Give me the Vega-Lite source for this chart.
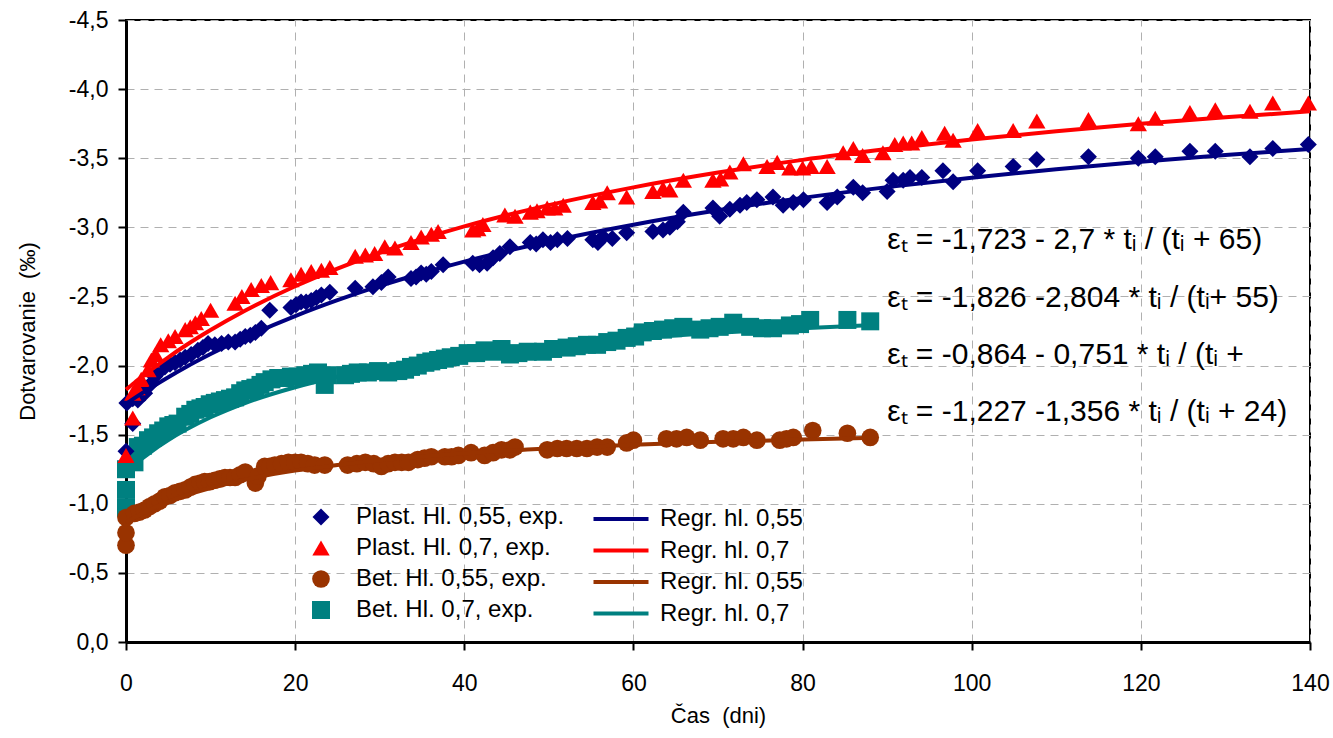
{
  "$schema": "https://vega.github.io/schema/vega-lite/v6.json",
  "width": 1184,
  "height": 622,
  "autosize": {"type": "none"},
  "padding": {"left": 126, "top": 20, "right": 23, "bottom": 96},
  "background": "white",
  "datasets": {
    "pts": [
      {"s":"B70","t":0,"v":-0.97},{"s":"B70","t":0,"v":-1.10},{"s":"B70","t":0,"v":-1.25},{"s":"B70","t":1,"v":-1.30},{"s":"B70","t":1.4,"v":-1.41},{"s":"B70","t":2,"v":-1.42},{"s":"B70","t":2.6,"v":-1.46},{"s":"B70","t":3.2,"v":-1.48},{"s":"B70","t":3.8,"v":-1.51},{"s":"B70","t":4.4,"v":-1.53},{"s":"B70","t":5,"v":-1.56},{"s":"B70","t":5.6,"v":-1.57},{"s":"B70","t":6.1,"v":-1.58},{"s":"B70","t":7,"v":-1.63},{"s":"B70","t":7.6,"v":-1.65},{"s":"B70","t":8.2,"v":-1.68},{"s":"B70","t":8.8,"v":-1.69},{"s":"B70","t":9.3,"v":-1.70},{"s":"B70","t":9.9,"v":-1.72},{"s":"B70","t":10.5,"v":-1.73},{"s":"B70","t":11.1,"v":-1.74},{"s":"B70","t":11.7,"v":-1.75},{"s":"B70","t":12.3,"v":-1.76},{"s":"B70","t":12.9,"v":-1.77},{"s":"B70","t":13.5,"v":-1.80},{"s":"B70","t":14.1,"v":-1.82},{"s":"B70","t":14.7,"v":-1.83},{"s":"B70","t":15.3,"v":-1.84},{"s":"B70","t":15.9,"v":-1.86},{"s":"B70","t":16.4,"v":-1.88},{"s":"B70","t":17.2,"v":-1.90},{"s":"B70","t":18,"v":-1.91},{"s":"B70","t":18.8,"v":-1.91},{"s":"B70","t":19.5,"v":-1.92},{"s":"B70","t":20.3,"v":-1.92},{"s":"B70","t":21.2,"v":-1.93},{"s":"B70","t":22,"v":-1.94},{"s":"B70","t":22.7,"v":-1.95},{"s":"B70","t":23.5,"v":-1.86},{"s":"B70","t":23.8,"v":-1.93},{"s":"B70","t":25.9,"v":-1.93},{"s":"B70","t":26.6,"v":-1.94},{"s":"B70","t":27.4,"v":-1.95},{"s":"B70","t":28.6,"v":-1.95},{"s":"B70","t":29.8,"v":-1.96},{"s":"B70","t":31,"v":-1.95},{"s":"B70","t":32.2,"v":-1.96},{"s":"B70","t":33,"v":-1.97},{"s":"B70","t":33.7,"v":-1.99},{"s":"B70","t":34.5,"v":-2.00},{"s":"B70","t":35.4,"v":-2.02},{"s":"B70","t":36.1,"v":-2.03},{"s":"B70","t":36.9,"v":-2.04},{"s":"B70","t":37.7,"v":-2.05},{"s":"B70","t":38.4,"v":-2.06},{"s":"B70","t":39.4,"v":-2.07},{"s":"B70","t":40.4,"v":-2.09},{"s":"B70","t":41.4,"v":-2.09},{"s":"B70","t":42.4,"v":-2.11},{"s":"B70","t":43.4,"v":-2.10},{"s":"B70","t":44.4,"v":-2.12},{"s":"B70","t":45.4,"v":-2.08},{"s":"B70","t":46.4,"v":-2.09},{"s":"B70","t":47.5,"v":-2.10},{"s":"B70","t":49.3,"v":-2.10},{"s":"B70","t":50.5,"v":-2.12},{"s":"B70","t":52.1,"v":-2.13},{"s":"B70","t":53.3,"v":-2.14},{"s":"B70","t":54.5,"v":-2.15},{"s":"B70","t":55.7,"v":-2.15},{"s":"B70","t":56.9,"v":-2.17},{"s":"B70","t":58,"v":-2.18},{"s":"B70","t":59.2,"v":-2.20},{"s":"B70","t":60.2,"v":-2.21},{"s":"B70","t":61.1,"v":-2.24},{"s":"B70","t":62.3,"v":-2.25},{"s":"B70","t":63.5,"v":-2.26},{"s":"B70","t":64.7,"v":-2.27},{"s":"B70","t":65.9,"v":-2.28},{"s":"B70","t":67.9,"v":-2.26},{"s":"B70","t":69,"v":-2.27},{"s":"B70","t":70.2,"v":-2.28},{"s":"B70","t":71.8,"v":-2.31},{"s":"B70","t":73.8,"v":-2.28},{"s":"B70","t":75.2,"v":-2.27},{"s":"B70","t":76.5,"v":-2.27},{"s":"B70","t":78.5,"v":-2.29},{"s":"B70","t":79.7,"v":-2.30},{"s":"B70","t":80.9,"v":-2.33},{"s":"B70","t":85.3,"v":-2.33},{"s":"B70","t":88,"v":-2.32},
      {"s":"B55","t":0,"v":-0.70},{"s":"B55","t":0,"v":-0.79},{"s":"B55","t":0,"v":-0.90},{"s":"B55","t":1,"v":-0.93},{"s":"B55","t":1.6,"v":-0.94},{"s":"B55","t":2.2,"v":-0.955},{"s":"B55","t":2.8,"v":-0.98},{"s":"B55","t":3.4,"v":-1.00},{"s":"B55","t":4,"v":-1.02},{"s":"B55","t":4.6,"v":-1.05},{"s":"B55","t":5.2,"v":-1.06},{"s":"B55","t":5.8,"v":-1.08},{"s":"B55","t":6.4,"v":-1.09},{"s":"B55","t":7,"v":-1.10},{"s":"B55","t":7.6,"v":-1.12},{"s":"B55","t":8.2,"v":-1.14},{"s":"B55","t":8.8,"v":-1.15},{"s":"B55","t":9.3,"v":-1.16},{"s":"B55","t":9.9,"v":-1.16},{"s":"B55","t":10.5,"v":-1.17},{"s":"B55","t":11.1,"v":-1.18},{"s":"B55","t":11.7,"v":-1.19},{"s":"B55","t":12.3,"v":-1.19},{"s":"B55","t":12.9,"v":-1.19},{"s":"B55","t":13.5,"v":-1.21},{"s":"B55","t":14.1,"v":-1.23},{"s":"B55","t":15.3,"v":-1.15},{"s":"B55","t":15.6,"v":-1.20},{"s":"B55","t":16.4,"v":-1.27},{"s":"B55","t":17,"v":-1.27},{"s":"B55","t":17.6,"v":-1.28},{"s":"B55","t":18.4,"v":-1.29},{"s":"B55","t":19.2,"v":-1.30},{"s":"B55","t":20,"v":-1.30},{"s":"B55","t":20.7,"v":-1.30},{"s":"B55","t":21.5,"v":-1.29},{"s":"B55","t":22.3,"v":-1.28},{"s":"B55","t":23.5,"v":-1.28},{"s":"B55","t":26.2,"v":-1.28},{"s":"B55","t":27.3,"v":-1.29},{"s":"B55","t":28.3,"v":-1.30},{"s":"B55","t":29.3,"v":-1.29},{"s":"B55","t":30.2,"v":-1.27},{"s":"B55","t":31,"v":-1.29},{"s":"B55","t":31.8,"v":-1.30},{"s":"B55","t":32.6,"v":-1.30},{"s":"B55","t":33.4,"v":-1.30},{"s":"B55","t":34.5,"v":-1.32},{"s":"B55","t":35.3,"v":-1.33},{"s":"B55","t":36.1,"v":-1.34},{"s":"B55","t":37.7,"v":-1.34},{"s":"B55","t":38.5,"v":-1.34},{"s":"B55","t":39.3,"v":-1.35},{"s":"B55","t":40.8,"v":-1.37},{"s":"B55","t":42.4,"v":-1.35},{"s":"B55","t":43.4,"v":-1.37},{"s":"B55","t":44.4,"v":-1.39},{"s":"B55","t":45.4,"v":-1.39},{"s":"B55","t":46,"v":-1.41},{"s":"B55","t":49.8,"v":-1.39},{"s":"B55","t":51,"v":-1.40},{"s":"B55","t":52.1,"v":-1.40},{"s":"B55","t":53.3,"v":-1.40},{"s":"B55","t":54.5,"v":-1.40},{"s":"B55","t":55.7,"v":-1.41},{"s":"B55","t":56.9,"v":-1.41},{"s":"B55","t":59.2,"v":-1.44},{"s":"B55","t":60,"v":-1.46},{"s":"B55","t":63.9,"v":-1.47},{"s":"B55","t":65.1,"v":-1.47},{"s":"B55","t":66.3,"v":-1.48},{"s":"B55","t":67.9,"v":-1.46},{"s":"B55","t":70.6,"v":-1.47},{"s":"B55","t":71.8,"v":-1.47},{"s":"B55","t":73,"v":-1.48},{"s":"B55","t":74.6,"v":-1.46},{"s":"B55","t":77.3,"v":-1.46},{"s":"B55","t":78.1,"v":-1.47},{"s":"B55","t":78.9,"v":-1.48},{"s":"B55","t":81.2,"v":-1.53},{"s":"B55","t":85.3,"v":-1.51},{"s":"B55","t":88,"v":-1.48},
      {"s":"P55","t":0,"v":-1.38},{"s":"P55","t":0.1,"v":-1.73},{"s":"P55","t":0.8,"v":-1.58},{"s":"P55","t":0.8,"v":-1.76},{"s":"P55","t":1.4,"v":-1.75},{"s":"P55","t":1.8,"v":-1.79},{"s":"P55","t":2.2,"v":-1.80},{"s":"P55","t":2.8,"v":-1.86},{"s":"P55","t":3.4,"v":-1.92},{"s":"P55","t":4,"v":-1.96},{"s":"P55","t":4.6,"v":-1.99},{"s":"P55","t":5.2,"v":-2.01},{"s":"P55","t":5.8,"v":-2.02},{"s":"P55","t":6.4,"v":-2.04},{"s":"P55","t":7,"v":-2.06},{"s":"P55","t":7.7,"v":-2.08},{"s":"P55","t":8.5,"v":-2.11},{"s":"P55","t":9.1,"v":-2.13},{"s":"P55","t":9.7,"v":-2.16},{"s":"P55","t":10.5,"v":-2.15},{"s":"P55","t":11.3,"v":-2.16},{"s":"P55","t":12.1,"v":-2.17},{"s":"P55","t":12.9,"v":-2.17},{"s":"P55","t":13.5,"v":-2.19},{"s":"P55","t":14.1,"v":-2.21},{"s":"P55","t":14.7,"v":-2.22},{"s":"P55","t":15.3,"v":-2.24},{"s":"P55","t":16,"v":-2.27},{"s":"P55","t":17,"v":-2.40},{"s":"P55","t":19.5,"v":-2.42},{"s":"P55","t":20.1,"v":-2.44},{"s":"P55","t":20.7,"v":-2.46},{"s":"P55","t":21.3,"v":-2.46},{"s":"P55","t":21.9,"v":-2.47},{"s":"P55","t":22.5,"v":-2.49},{"s":"P55","t":23.1,"v":-2.51},{"s":"P55","t":24.1,"v":-2.53},{"s":"P55","t":27.1,"v":-2.56},{"s":"P55","t":29.2,"v":-2.57},{"s":"P55","t":30.2,"v":-2.60},{"s":"P55","t":31,"v":-2.64},{"s":"P55","t":33.7,"v":-2.63},{"s":"P55","t":34.3,"v":-2.64},{"s":"P55","t":34.9,"v":-2.67},{"s":"P55","t":35.5,"v":-2.66},{"s":"P55","t":36.1,"v":-2.68},{"s":"P55","t":37.5,"v":-2.73},{"s":"P55","t":41,"v":-2.74},{"s":"P55","t":41.8,"v":-2.73},{"s":"P55","t":42.7,"v":-2.74},{"s":"P55","t":43.4,"v":-2.78},{"s":"P55","t":44.2,"v":-2.81},{"s":"P55","t":45.4,"v":-2.86},{"s":"P55","t":47.8,"v":-2.89},{"s":"P55","t":48.5,"v":-2.88},{"s":"P55","t":49.3,"v":-2.91},{"s":"P55","t":50.2,"v":-2.89},{"s":"P55","t":51,"v":-2.91},{"s":"P55","t":52.2,"v":-2.92},{"s":"P55","t":55.2,"v":-2.91},{"s":"P55","t":55.8,"v":-2.89},{"s":"P55","t":56.4,"v":-2.93},{"s":"P55","t":57.5,"v":-2.92},{"s":"P55","t":59.2,"v":-2.96},{"s":"P55","t":62.3,"v":-2.97},{"s":"P55","t":63.5,"v":-2.98},{"s":"P55","t":64.3,"v":-3.00},{"s":"P55","t":65.2,"v":-3.04},{"s":"P55","t":65.9,"v":-3.11},{"s":"P55","t":69.4,"v":-3.14},{"s":"P55","t":70.2,"v":-3.08},{"s":"P55","t":71.4,"v":-3.13},{"s":"P55","t":72.6,"v":-3.16},{"s":"P55","t":73.4,"v":-3.18},{"s":"P55","t":74.6,"v":-3.20},{"s":"P55","t":76.5,"v":-3.22},{"s":"P55","t":77.7,"v":-3.16},{"s":"P55","t":78.9,"v":-3.18},{"s":"P55","t":80.1,"v":-3.20},{"s":"P55","t":82.9,"v":-3.18},{"s":"P55","t":84.1,"v":-3.22},{"s":"P55","t":86,"v":-3.29},{"s":"P55","t":87.1,"v":-3.25},{"s":"P55","t":90,"v":-3.26},{"s":"P55","t":90.7,"v":-3.34},{"s":"P55","t":91.9,"v":-3.34},{"s":"P55","t":92.7,"v":-3.36},{"s":"P55","t":94.1,"v":-3.36},{"s":"P55","t":96.6,"v":-3.41},{"s":"P55","t":97.8,"v":-3.33},{"s":"P55","t":100.7,"v":-3.41},{"s":"P55","t":104.9,"v":-3.44},{"s":"P55","t":107.7,"v":-3.49},{"s":"P55","t":113.8,"v":-3.51},{"s":"P55","t":119.7,"v":-3.50},{"s":"P55","t":121.7,"v":-3.51},{"s":"P55","t":125.8,"v":-3.55},{"s":"P55","t":128.8,"v":-3.55},{"s":"P55","t":132.9,"v":-3.51},{"s":"P55","t":135.6,"v":-3.57},{"s":"P55","t":139.8,"v":-3.60},
      {"s":"P70","t":0,"v":-1.35},{"s":"P70","t":0.8,"v":-1.62},{"s":"P70","t":0.8,"v":-1.80},{"s":"P70","t":1.3,"v":-1.84},{"s":"P70","t":1.8,"v":-1.90},{"s":"P70","t":2.6,"v":-1.97},{"s":"P70","t":3,"v":-2.04},{"s":"P70","t":3.5,"v":-2.08},{"s":"P70","t":4.1,"v":-2.15},{"s":"P70","t":5,"v":-2.18},{"s":"P70","t":5.8,"v":-2.21},{"s":"P70","t":7,"v":-2.26},{"s":"P70","t":7.6,"v":-2.28},{"s":"P70","t":8.2,"v":-2.31},{"s":"P70","t":8.9,"v":-2.34},{"s":"P70","t":10,"v":-2.40},{"s":"P70","t":12.9,"v":-2.45},{"s":"P70","t":13.7,"v":-2.50},{"s":"P70","t":14.8,"v":-2.55},{"s":"P70","t":16,"v":-2.58},{"s":"P70","t":17.1,"v":-2.60},{"s":"P70","t":19.5,"v":-2.62},{"s":"P70","t":20.7,"v":-2.66},{"s":"P70","t":21.9,"v":-2.68},{"s":"P70","t":23.1,"v":-2.69},{"s":"P70","t":24.1,"v":-2.71},{"s":"P70","t":27.1,"v":-2.79},{"s":"P70","t":28.3,"v":-2.80},{"s":"P70","t":29.4,"v":-2.81},{"s":"P70","t":30.6,"v":-2.86},{"s":"P70","t":31.8,"v":-2.85},{"s":"P70","t":33.7,"v":-2.89},{"s":"P70","t":34.9,"v":-2.93},{"s":"P70","t":36.1,"v":-2.95},{"s":"P70","t":36.9,"v":-2.97},{"s":"P70","t":41,"v":-2.98},{"s":"P70","t":41.6,"v":-2.99},{"s":"P70","t":42.2,"v":-3.02},{"s":"P70","t":44.8,"v":-3.09},{"s":"P70","t":46,"v":-3.08},{"s":"P70","t":47.8,"v":-3.11},{"s":"P70","t":48.6,"v":-3.12},{"s":"P70","t":49.8,"v":-3.14},{"s":"P70","t":50.7,"v":-3.14},{"s":"P70","t":51.7,"v":-3.16},{"s":"P70","t":55.2,"v":-3.18},{"s":"P70","t":56,"v":-3.19},{"s":"P70","t":56.9,"v":-3.25},{"s":"P70","t":59.2,"v":-3.22},{"s":"P70","t":62.3,"v":-3.26},{"s":"P70","t":63.5,"v":-3.28},{"s":"P70","t":64.3,"v":-3.27},{"s":"P70","t":65.9,"v":-3.34},{"s":"P70","t":69.4,"v":-3.34},{"s":"P70","t":70.3,"v":-3.35},{"s":"P70","t":71.4,"v":-3.40},{"s":"P70","t":73,"v":-3.46},{"s":"P70","t":75.8,"v":-3.44},{"s":"P70","t":77,"v":-3.47},{"s":"P70","t":78.5,"v":-3.43},{"s":"P70","t":80,"v":-3.43},{"s":"P70","t":81,"v":-3.44},{"s":"P70","t":82.9,"v":-3.44},{"s":"P70","t":84.8,"v":-3.54},{"s":"P70","t":86,"v":-3.57},{"s":"P70","t":87.1,"v":-3.52},{"s":"P70","t":89.5,"v":-3.54},{"s":"P70","t":90.9,"v":-3.60},{"s":"P70","t":91.9,"v":-3.61},{"s":"P70","t":92.9,"v":-3.61},{"s":"P70","t":94.1,"v":-3.65},{"s":"P70","t":96.8,"v":-3.68},{"s":"P70","t":97.8,"v":-3.63},{"s":"P70","t":100.7,"v":-3.70},{"s":"P70","t":104.9,"v":-3.70},{"s":"P70","t":107.7,"v":-3.77},{"s":"P70","t":113.8,"v":-3.78},{"s":"P70","t":119.7,"v":-3.75},{"s":"P70","t":121.7,"v":-3.79},{"s":"P70","t":125.8,"v":-3.83},{"s":"P70","t":128.8,"v":-3.85},{"s":"P70","t":132.9,"v":-3.84},{"s":"P70","t":135.6,"v":-3.90},{"s":"P70","t":139.8,"v":-3.90}
    ],
    "fit": [
      {"r":"R55P","t":0,"v":-1.723},{"r":"R55P","t":1,"v":-1.764},{"r":"R55P","t":2,"v":-1.804},{"r":"R55P","t":3,"v":-1.842},{"r":"R55P","t":5,"v":-1.916},{"r":"R55P","t":7,"v":-1.986},{"r":"R55P","t":10,"v":-2.083},{"r":"R55P","t":14,"v":-2.201},{"r":"R55P","t":20,"v":-2.358},{"r":"R55P","t":25,"v":-2.473},{"r":"R55P","t":30,"v":-2.576},{"r":"R55P","t":35,"v":-2.668},{"r":"R55P","t":40,"v":-2.752},{"r":"R55P","t":50,"v":-2.897},{"r":"R55P","t":60,"v":-3.019},{"r":"R55P","t":70,"v":-3.123},{"r":"R55P","t":80,"v":-3.213},{"r":"R55P","t":90,"v":-3.291},{"r":"R55P","t":100,"v":-3.359},{"r":"R55P","t":110,"v":-3.420},{"r":"R55P","t":120,"v":-3.474},{"r":"R55P","t":130,"v":-3.523},{"r":"R55P","t":140,"v":-3.567},
      {"r":"R70P","t":0,"v":-1.826},{"r":"R70P","t":1,"v":-1.876},{"r":"R70P","t":2,"v":-1.924},{"r":"R70P","t":3,"v":-1.971},{"r":"R70P","t":5,"v":-2.060},{"r":"R70P","t":7,"v":-2.143},{"r":"R70P","t":10,"v":-2.257},{"r":"R70P","t":14,"v":-2.395},{"r":"R70P","t":20,"v":-2.574},{"r":"R70P","t":25,"v":-2.702},{"r":"R70P","t":30,"v":-2.816},{"r":"R70P","t":35,"v":-2.916},{"r":"R70P","t":40,"v":-3.007},{"r":"R70P","t":50,"v":-3.161},{"r":"R70P","t":60,"v":-3.289},{"r":"R70P","t":70,"v":-3.396},{"r":"R70P","t":80,"v":-3.488},{"r":"R70P","t":90,"v":-3.566},{"r":"R70P","t":100,"v":-3.635},{"r":"R70P","t":110,"v":-3.695},{"r":"R70P","t":120,"v":-3.749},{"r":"R70P","t":130,"v":-3.796},{"r":"R70P","t":140,"v":-3.839},
      {"r":"R55B","t":0,"v":-0.864},{"r":"R55B","t":1,"v":-0.900},{"r":"R55B","t":2,"v":-0.932},{"r":"R55B","t":3,"v":-0.962},{"r":"R55B","t":5,"v":-1.014},{"r":"R55B","t":7,"v":-1.059},{"r":"R55B","t":10,"v":-1.114},{"r":"R55B","t":14,"v":-1.173},{"r":"R55B","t":20,"v":-1.240},{"r":"R55B","t":25,"v":-1.281},{"r":"R55B","t":30,"v":-1.315},{"r":"R55B","t":35,"v":-1.342},{"r":"R55B","t":40,"v":-1.365},{"r":"R55B","t":50,"v":-1.400},{"r":"R55B","t":60,"v":-1.427},{"r":"R55B","t":70,"v":-1.448},{"r":"R55B","t":80,"v":-1.465},{"r":"R55B","t":88.5,"v":-1.477},
      {"r":"R70B","t":0,"v":-1.227},{"r":"R70B","t":1,"v":-1.281},{"r":"R70B","t":2,"v":-1.331},{"r":"R70B","t":3,"v":-1.378},{"r":"R70B","t":5,"v":-1.461},{"r":"R70B","t":7,"v":-1.533},{"r":"R70B","t":10,"v":-1.626},{"r":"R70B","t":14,"v":-1.727},{"r":"R70B","t":20,"v":-1.843},{"r":"R70B","t":25,"v":-1.919},{"r":"R70B","t":30,"v":-1.980},{"r":"R70B","t":35,"v":-2.031},{"r":"R70B","t":40,"v":-2.075},{"r":"R70B","t":50,"v":-2.143},{"r":"R70B","t":60,"v":-2.196},{"r":"R70B","t":70,"v":-2.237},{"r":"R70B","t":80,"v":-2.270},{"r":"R70B","t":88.5,"v":-2.293}
    ],
    "eq": [
      {"t":90,"v":-2.91,"label":"εₜ = -1,723 - 2,7 * tᵢ / (tᵢ + 65)"},
      {"t":90,"v":-2.49,"label":"εₜ = -1,826 -2,804 * tᵢ / (tᵢ+ 55)"},
      {"t":90,"v":-2.077,"label":"εₜ = -0,864 - 0,751  * tᵢ / (tᵢ +"},
      {"t":90,"v":-1.664,"label":"εₜ = -1,227 -1,356 * tᵢ / (tᵢ + 24)"}
    ]
  },
  "encoding": {
    "x": {
      "field": "t", "type": "quantitative",
      "scale": {"domain": [0, 140], "nice": false, "zero": false},
      "axis": {"values": [0, 20, 40, 60, 80, 100, 120, 140], "title": "Čas \u00a0(dni)", "labelPadding": 22, "titlePadding": 10, "tickSize": 8, "labelFlush": false}
    },
    "y": {
      "field": "v", "type": "quantitative",
      "scale": {"domain": [-4.5, 0], "reverse": true, "nice": false, "zero": false},
      "axis": {
        "values": [0, -0.5, -1, -1.5, -2, -2.5, -3, -3.5, -4, -4.5],
        "labelExpr": "(datum.value < 0 ? '-' : '') + replace(format(abs(datum.value), '.1f'), '.', ',')",
        "title": "Dotvarovanie \u00a0(‰)", "labelPadding": 10, "titlePadding": 29, "tickSize": 8, "labelFlush": false
      }
    }
  },
  "layer": [
    {
      "data": {"name": "pts"},
      "mark": {"type": "point", "filled": true, "opacity": 1},
      "encoding": {
        "color": {
          "field": "s", "type": "nominal",
          "scale": {"domain": ["P55", "P70", "B55", "B70"], "range": ["#000080", "#FF0000", "#993300", "#008080"]},
          "legend": {
            "orient": "none", "legendX": 183, "legendY": 485, "title": null,
            "symbolSize": 170, "labelOffset": 23, "rowPadding": 7,
            "labelExpr": "datum.label == 'P55' ? 'Plast. Hl. 0,55, exp.' : datum.label == 'P70' ? 'Plast. Hl. 0,7, exp.' : datum.label == 'B55' ? 'Bet. Hl. 0,55, exp.' : 'Bet. Hl. 0,7, exp.'"
          }
        },
        "shape": {
          "field": "s", "type": "nominal",
          "scale": {"domain": ["P55", "P70", "B55", "B70"], "range": ["diamond", "triangle-up", "circle", "square"]}
        },
        "size": {
          "field": "s", "type": "nominal",
          "scale": {"domain": ["P55", "P70", "B55", "B70"], "range": [289, 324, 196, 225]},
          "legend": null
        }
      }
    },
    {
      "data": {"name": "fit"},
      "mark": {"type": "line", "strokeWidth": 4, "interpolate": "monotone"},
      "encoding": {
        "stroke": {
          "field": "r", "type": "nominal",
          "scale": {"domain": ["R55P", "R70P", "R55B", "R70B"], "range": ["#000080", "#FF0000", "#993300", "#008080"]},
          "legend": {
            "orient": "none", "legendX": 483, "legendY": 487, "title": null,
            "symbolType": "M-5.5,0L5.5,0", "symbolSize": 100, "symbolStrokeWidth": 4,
            "labelOffset": 27, "rowPadding": 7.5,
            "labelExpr": "(datum.label == 'R55P' || datum.label == 'R55B') ? 'Regr. hl. 0,55' : 'Regr. hl. 0,7'"
          }
        }
      }
    },
    {
      "data": {"name": "eq"},
      "mark": {"type": "text", "align": "left", "baseline": "middle", "fontSize": 30, "font": "Liberation Sans", "color": "black"},
      "encoding": {"text": {"field": "label"}}
    }
  ],
  "config": {
    "font": "Liberation Sans",
    "view": {"stroke": "black", "strokeWidth": 2},
    "axis": {
      "labelFont": "Liberation Sans", "titleFont": "Liberation Sans",
      "labelFontSize": 23, "titleFontSize": 22, "titleFontWeight": "normal",
      "labelColor": "black", "titleColor": "black",
      "domainColor": "black", "domainWidth": 3,
      "tickColor": "black", "tickWidth": 2,
      "gridColor": "#b0b0b0", "gridDash": [8, 6], "gridWidth": 1
    },
    "legend": {
      "labelFont": "Liberation Sans", "labelFontSize": 24, "labelColor": "black", "labelLimit": 400,
      "padding": 0, "symbolStrokeWidth": 0
    }
  }
}
